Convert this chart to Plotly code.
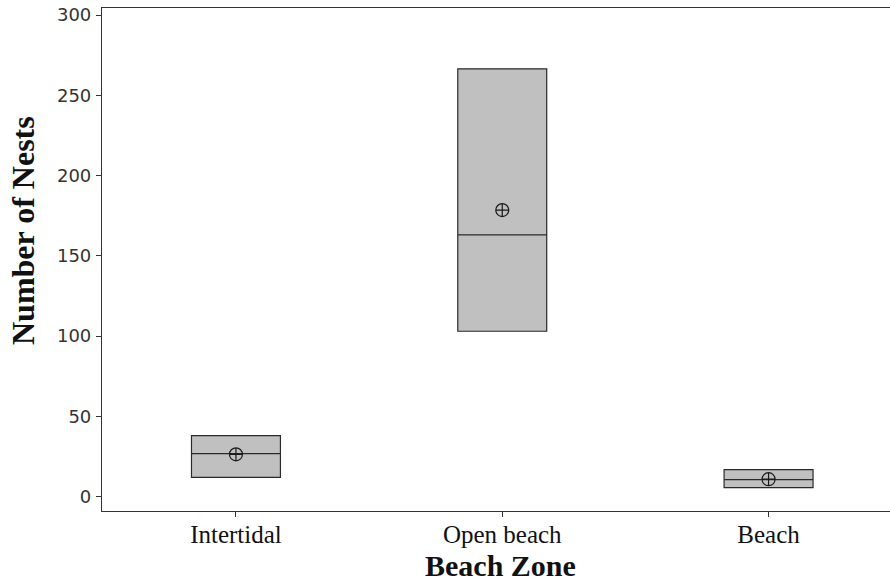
import plotly.graph_objects as go

# Nest counts per beach zone (box summaries: quartiles, median, mean)
zones = ["Intertidal", "Open beach", "Beach"]
q1 = [11.9, 103.0, 5.6]
median = [26.8, 163.0, 10.6]
q3 = [38.0, 266.5, 16.8]
mean = [26.3, 178.5, 10.8]

y_ticks = [0, 50, 100, 150, 200, 250, 300]

pos = list(range(len(zones)))

fig = go.Figure()

fig.add_trace(go.Box(
    x=pos,
    q1=q1,
    median=median,
    q3=q3,
    lowerfence=q1,
    upperfence=q3,
    width=0.334,
    whiskerwidth=0,
    fillcolor="#c0c0c0",
    line=dict(color="#2a2a2a", width=1.2),
    boxpoints=False,
    hoverinfo="skip",
    showlegend=False,
))

fig.add_trace(go.Scatter(
    x=pos,
    y=mean,
    mode="markers",
    marker=dict(symbol="circle-cross-open", size=13,
                color="#1a1a1a", line=dict(width=1.2, color="#1a1a1a")),
    showlegend=False,
    hoverinfo="skip",
))

fig.update_layout(
    width=890,
    height=583,
    margin=dict(l=102, r=0, t=8, b=72),
    paper_bgcolor="white",
    plot_bgcolor="white",
    xaxis=dict(
        range=[-0.503, 2.456],
        tickvals=pos,
        ticktext=zones,
        showgrid=False,
        zeroline=False,
        showline=True,
        linecolor="#333333",
        linewidth=1.2,
        mirror=True,
        ticks="outside",
        ticklen=5,
        tickcolor="#333333",
        ticklabelstandoff=-4,
        tickfont=dict(family="Liberation Serif", size=25, color="#111111"),
    ),
    yaxis=dict(
        range=[-9.0, 304.4],
        tickvals=y_ticks,
        showgrid=False,
        zeroline=False,
        showline=True,
        linecolor="#333333",
        linewidth=1.2,
        ticks="outside",
        ticklen=5,
        tickcolor="#333333",
        ticklabelstandoff=1,
        tickfont=dict(family="DejaVu Sans", size=18, color="#333333"),
    ),
    annotations=[
        dict(text="<b>Beach Zone</b>", xref="paper", yref="paper",
             x=0.506, y=-0.109, xanchor="center", yanchor="middle",
             showarrow=False,
             font=dict(family="Liberation Serif", size=30, color="#111111")),
        dict(text="<b>Number of Nests</b>", xref="paper", yref="paper",
             x=-0.100, y=0.557, xanchor="center", yanchor="middle",
             textangle=-90, showarrow=False,
             font=dict(family="Liberation Serif", size=32, color="#111111")),
    ],
)

fig.write_html("out.html")
